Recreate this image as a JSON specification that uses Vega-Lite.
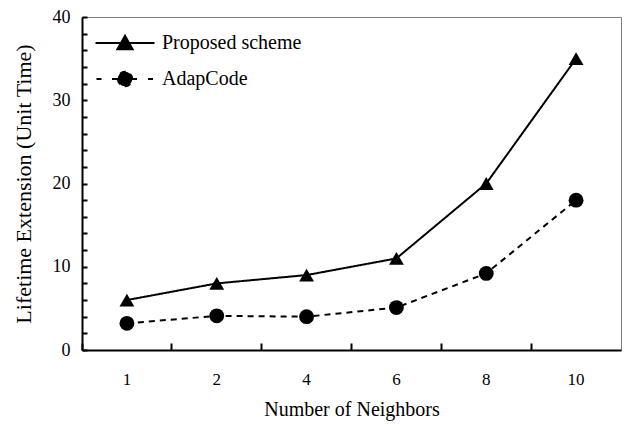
{
  "$schema": "https://vega.github.io/schema/vega-lite/v6.json",
  "width": 539,
  "height": 333,
  "autosize": "none",
  "padding": {"left": 82, "top": 17, "right": 7, "bottom": 76},
  "background": "white",
  "config": {
    "view": {"stroke": "#808080", "strokeWidth": 1},
    "font": "Liberation Serif"
  },
  "data": {
    "values": [
      {"n": "1", "series": "Proposed scheme", "v": 6},
      {"n": "2", "series": "Proposed scheme", "v": 8},
      {"n": "4", "series": "Proposed scheme", "v": 9},
      {"n": "6", "series": "Proposed scheme", "v": 11},
      {"n": "8", "series": "Proposed scheme", "v": 20},
      {"n": "10", "series": "Proposed scheme", "v": 35},
      {"n": "1", "series": "AdapCode", "v": 3.2},
      {"n": "2", "series": "AdapCode", "v": 4.1},
      {"n": "4", "series": "AdapCode", "v": 4.0},
      {"n": "6", "series": "AdapCode", "v": 5.1},
      {"n": "8", "series": "AdapCode", "v": 9.2},
      {"n": "10", "series": "AdapCode", "v": 18}
    ]
  },
  "encoding": {
    "x": {
      "field": "n",
      "type": "ordinal",
      "sort": ["1", "2", "4", "6", "8", "10"],
      "scale": {"type": "band", "paddingInner": 0, "paddingOuter": 0},
      "axis": {
        "title": "Number of Neighbors",
        "titleFont": "Liberation Serif",
        "titleFontSize": 20,
        "titleFontWeight": "normal",
        "titleColor": "black",
        "titlePadding": 12,
        "labelAngle": 0,
        "labelFont": "Liberation Serif",
        "labelFontSize": 17,
        "labelColor": "black",
        "labelPadding": 28,
        "bandPosition": 0,
        "tickSize": -7,
        "tickWidth": 2,
        "tickColor": "black",
        "domainColor": "black",
        "domainWidth": 2,
        "grid": false
      }
    },
    "y": {
      "field": "v",
      "type": "quantitative",
      "scale": {"domain": [0, 40], "nice": false},
      "axis": {
        "title": "Lifetime Extension (Unit Time)",
        "titleFont": "Liberation Serif",
        "titleFontSize": 22,
        "titleFontWeight": "normal",
        "titleColor": "black",
        "titlePadding": 17,
        "values": [0, 2, 4, 6, 8, 10, 12, 14, 16, 18, 20, 22, 24, 26, 28, 30, 32, 34, 36, 38, 40],
        "labelExpr": "datum.value % 10 === 0 ? datum.label : ''",
        "labelFont": "Liberation Serif",
        "labelFontSize": 18,
        "labelColor": "black",
        "labelPadding": 17,
        "tickSize": -5,
        "tickWidth": 2,
        "tickColor": "black",
        "domainColor": "black",
        "domainWidth": 2,
        "grid": false
      }
    }
  },
  "layer": [
    {
      "mark": {"type": "line", "color": "black", "strokeWidth": 2},
      "encoding": {
        "strokeDash": {
          "field": "series",
          "type": "nominal",
          "scale": {"domain": ["Proposed scheme", "AdapCode"], "range": [[1, 0], [6, 5]]},
          "legend": {
            "orient": "none",
            "legendX": 32,
            "legendY": 15,
            "title": null,
            "padding": 0,
            "labelFont": "Liberation Serif",
            "labelFontSize": 20,
            "labelColor": "black",
            "labelOffset": 26,
            "rowPadding": 13,
            "symbolSize": 400,
            "symbolStrokeWidth": 2,
            "symbolStrokeColor": "black",
            "encode": {
              "symbols": {
                "update": {
                  "shape": {"signal": "datum.value === 'AdapCode' ? 'M-2.85,0H-2.35M-1.3,0H-0.6M0.6,0H1.3M2.3,0H2.8M-0.72,0A0.72,0.72 0 1,0 0.72,0A0.72,0.72 0 1,0 -0.72,0Z' : 'M-2.95,0H2.95M-0.76,0.62L0,-0.72L0.76,0.62Z'"},
                  "fill": {"value": "black"},
                  "stroke": {"value": "black"},
                  "strokeWidth": {"value": 2},
                  "strokeDash": {"value": [1, 0]},
                  "opacity": {"value": 1}
                }
              }
            }
          }
        }
      }
    },
    {
      "mark": {"type": "point", "filled": true, "color": "black", "opacity": 1, "size": 220},
      "encoding": {
        "shape": {
          "field": "series",
          "type": "nominal",
          "scale": {"domain": ["AdapCode", "Proposed scheme"], "range": ["circle", "triangle-up"]},
          "legend": null
        }
      }
    }
  ]
}
